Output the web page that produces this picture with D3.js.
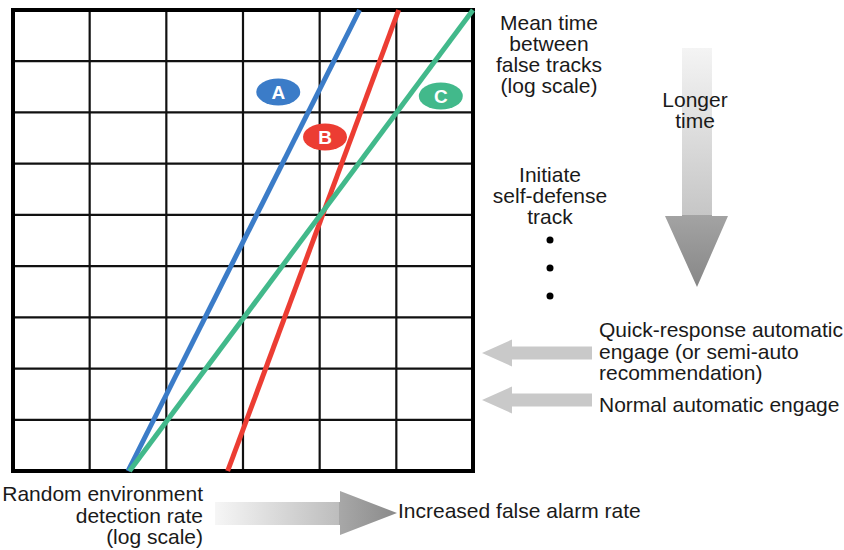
<!DOCTYPE html>
<html>
<head>
<meta charset="utf-8">
<script src="https://cdn.jsdelivr.net/npm/d3@7"></script>
<style>
  html, body { margin: 0; padding: 0; background: #fff; }
  svg { display: block; font-family: "Liberation Sans", Arial, Helvetica, sans-serif; }
</style>
</head>
<body>
<svg id="chart" width="844" height="550"></svg>
<script>
// Grid divisions (log-scale decades on both axes)
const xTicks = [0, 1, 2, 3, 4, 5, 6];
const yTicks = [0, 1, 2, 3, 4, 5, 6, 7, 8, 9];

// Operating curves: start/end in grid units (x = detection rate, y = mean time between false tracks)
const seriesNames = ["A", "B", "C"];
const seriesColors = ["#3b7cc8", "#ec3d33", "#42b98b"];
const seriesStart = [[1.50, 0], [2.80, 0], [1.52, 0]];
const seriesEnd = [[4.52, 9], [5.03, 9], [6.00, 9]];
const badgePos = [[3.46, 7.40], [4.07, 6.52], [5.58, 7.32]];

// Annotation text
const yTitle = ["Mean time", "between", "false tracks", "(log scale)"];
const levelText = ["Initiate", "self-defense", "track"];
const timeArrowText = ["Longer", "time"];
const engageLevels = [
  ["Quick-response automatic", "engage (or semi-auto", "recommendation)"],
  ["Normal automatic engage"]
];
const xTitle = ["Random environment", "detection rate", "(log scale)"];
const xArrowText = "Increased false alarm rate";

const svg = d3.select("#chart");
const x = d3.scaleLinear().domain([0, 6]).range([13, 473]);
const y = d3.scaleLinear().domain([0, 9]).range([471, 10]);

const defs = svg.append("defs");
const vGrad = defs.append("linearGradient").attr("id", "vgrad")
  .attr("gradientUnits", "userSpaceOnUse").attr("x1", 0).attr("y1", 48).attr("x2", 0).attr("y2", 287);
[[0, "#f4f4f4"], [0.70, "#c6c6c6"], [0.70, "#a3a3a3"], [1, "#878787"]]
  .forEach(([o, c]) => vGrad.append("stop").attr("offset", o).attr("stop-color", c));
const hGrad = defs.append("linearGradient").attr("id", "hgrad")
  .attr("gradientUnits", "userSpaceOnUse").attr("x1", 215).attr("y1", 0).attr("x2", 397).attr("y2", 0);
[[0, "#f6f6f6"], [0.68, "#bdbdbd"], [0.68, "#a8a8a8"], [1, "#8a8a8a"]]
  .forEach(([o, c]) => hGrad.append("stop").attr("offset", o).attr("stop-color", c));

// Grid
const grid = svg.append("g");
grid.selectAll("line.v").data(xTicks.slice(1, -1)).join("line")
  .attr("x1", d => x(d)).attr("x2", d => x(d)).attr("y1", y(0)).attr("y2", y(9))
  .attr("stroke", "#111").attr("stroke-width", 2.2);
grid.selectAll("line.h").data(yTicks.slice(1, -1)).join("line")
  .attr("x1", x(0)).attr("x2", x(6)).attr("y1", d => y(d)).attr("y2", d => y(d))
  .attr("stroke", "#111").attr("stroke-width", 2.2);
grid.append("rect")
  .attr("x", x(0)).attr("y", y(9)).attr("width", x(6) - x(0)).attr("height", y(0) - y(9))
  .attr("fill", "none").attr("stroke", "#000").attr("stroke-width", 4);

// Curves
const curves = seriesNames.map((n, i) => ({ name: n, color: seriesColors[i], pts: [seriesStart[i], seriesEnd[i]], badge: badgePos[i] }));
const line = d3.line().x(d => x(d[0])).y(d => y(d[1]));
svg.append("g").selectAll("path").data(curves).join("path")
  .attr("d", d => line(d.pts)).attr("fill", "none")
  .attr("stroke", d => d.color).attr("stroke-width", 5);

// Badges
const badges = svg.append("g").selectAll("g").data(curves).join("g")
  .attr("transform", d => `translate(${x(d.badge[0])},${y(d.badge[1])})`);
badges.append("ellipse").attr("rx", 22).attr("ry", 13.5).attr("fill", d => d.color);
badges.append("text").text(d => d.name)
  .attr("text-anchor", "middle").attr("dy", "0.36em")
  .attr("fill", "#fff").attr("font-weight", "bold").attr("font-size", 19);

// Multi-line text helper
function block(lines, tx, ty, anchor, lh) {
  const t = svg.append("text").attr("font-size", 21).attr("fill", "#1a1a1a").attr("text-anchor", anchor);
  lines.forEach((s, i) => t.append("tspan").attr("x", tx).attr("y", ty + i * lh).text(s));
  return t;
}

block(yTitle, 549, 30, "middle", 21);
block(levelText, 550, 182, "middle", 21);
svg.append("g").selectAll("circle").data([0, 1, 2]).join("circle")
  .attr("cx", 550).attr("cy", d => 240 + d * 28).attr("r", 3.5).attr("fill", "#000");

// Longer-time arrow
svg.append("path")
  .attr("d", "M682,48 L712,48 L712,216 L728,216 L697,287 L665,216 L682,216 Z")
  .attr("fill", "url(#vgrad)");
block(timeArrowText, 695, 107, "middle", 21);

// Engagement level arrows
const engageY = [353, 400];
engageLevels.forEach((lines, i) => {
  const cy = engageY[i];
  svg.append("path")
    .attr("d", `M482,${cy} L512,${cy - 13.5} L512,${cy - 6.5} L592,${cy - 6.5} L592,${cy + 6.5} L512,${cy + 6.5} L512,${cy + 13.5} Z`)
    .attr("fill", "#c9c9c9");
});
block(engageLevels[0], 599, 337, "start", 21.5);
block(engageLevels[1], 599, 412, "start", 21.5);

// Bottom axis title and arrow
block(xTitle, 203, 501, "end", 21.5);
svg.append("path")
  .attr("d", "M215,502 L340,502 L340,491 L397,513 L340,535 L340,525 L215,525 Z")
  .attr("fill", "url(#hgrad)");
svg.append("text").attr("x", 398).attr("y", 518).attr("font-size", 21).attr("fill", "#1a1a1a").text(xArrowText);
</script>
</body>
</html>
